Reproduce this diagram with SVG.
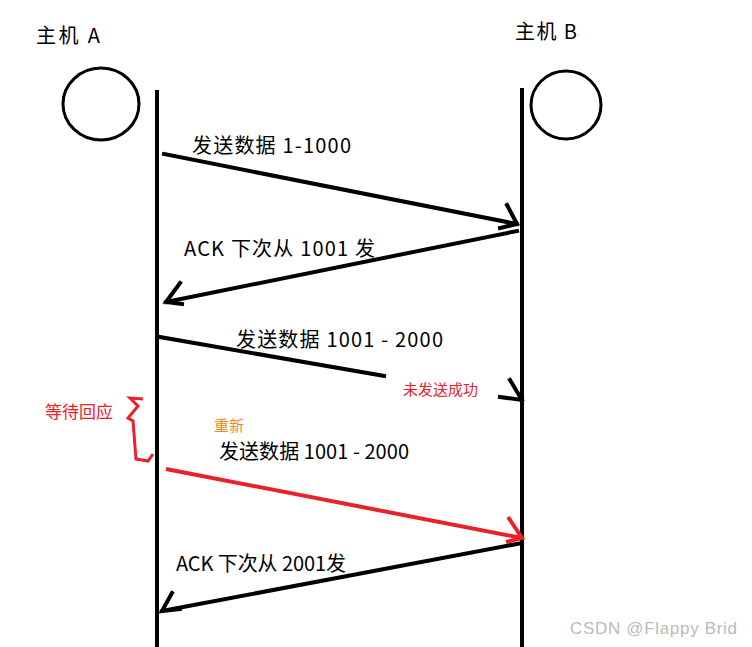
<svg xmlns="http://www.w3.org/2000/svg" width="752" height="647" viewBox="0 0 752 647">
<style>
.t{font-family:"Microsoft YaHei","Noto Sans CJK SC",sans-serif;font-size:20px;fill:#000}
.ln{stroke:#000;stroke-width:4;fill:none;stroke-linecap:square}
.r{fill:#e8212a;font-family:"Noto Sans CJK SC",sans-serif;font-size:15px}
</style>
<rect width="752" height="647" fill="#fff"/>
<g id="hostA"><text class="t" x="36" y="43" textLength="64">主机 A</text><ellipse cx="101" cy="104" rx="38" ry="36" fill="none" stroke="#000" stroke-width="3"/><path class="ln" d="M157 92V645"/></g>
<g id="hostB"><text class="t" x="515" y="39" textLength="62">主机 B</text><ellipse cx="566" cy="105" rx="35" ry="34" fill="none" stroke="#000" stroke-width="3"/><path class="ln" d="M522 90V645"/></g>
<g id="connectors">
<path class="ln" d="M164 154L517 224M507 205L517 224L500 228"/>
<path class="ln" d="M517 231L166 302M180 283L166 302L182 304"/>
<path class="ln" d="M160 337L384 376"/>
<path class="ln" d="M510 380L522 400M500 397L522 400"/>
<path d="M166 469L522 538M508 517L522 538L506 542" stroke="#e8212a" stroke-width="4" fill="none"/>
<path class="ln" d="M522 543L162 611M172 593L162 611L180 609"/>
<path d="M143 399L130 398L138 406L128 418L133 421L136 459L148 461L153 454" stroke="#e8212a" stroke-width="3" fill="none"/>
</g>
<g id="labels">
<text class="t" x="192" y="153" textLength="159">发送数据 1-1000</text>
<text class="t" x="184" y="256" textLength="191">ACK 下次从 1001 发</text>
<text class="t" x="236" y="347" textLength="207">发送数据 1001 - 2000</text>
<text class="r" x="403" y="395">未发送成功</text>
<text x="45" y="418" font-family="Noto Sans CJK SC,sans-serif" font-size="17" fill="#e8212a">等待回应</text>
<text x="214" y="431" font-family="Noto Sans CJK SC,sans-serif" font-size="15" fill="#f08a24">重新</text>
<text class="t" x="219" y="459" textLength="190">发送数据 1001 - 2000</text>
<text class="t" x="176" y="571" textLength="170">ACK 下次从 2001发</text>
<text x="570" y="634" font-family="Liberation Sans,sans-serif" font-size="17" fill="#bbb" textLength="167">CSDN @Flappy Brid</text>
</g>
</svg>
